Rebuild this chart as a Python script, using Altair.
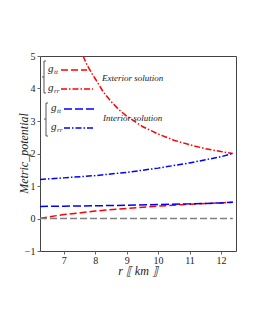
import altair as alt
import pandas as pd

# ---- data ----
r_ext_tt = [6.24, 6.5, 7.0, 7.5, 8.0, 9.0, 10.0, 11.0, 12.0, 12.38]
ext_tt = [0.0, 0.05, 0.12, 0.17, 0.23, 0.31, 0.38, 0.44, 0.48, 0.5]

r_ext_rr = [7.61, 7.75, 7.9, 8.0, 8.25, 8.5, 8.75, 9.0, 9.5, 10.0, 10.5, 11.0, 11.5, 12.0, 12.38]
ext_rr = [5.0, 4.7, 4.45, 4.3, 3.9, 3.6, 3.35, 3.15, 2.83, 2.6, 2.41, 2.27, 2.15, 2.06, 2.0]

r_int_tt = [6.24, 7.0, 8.0, 9.0, 10.0, 11.0, 12.0, 12.38]
int_tt = [0.37, 0.38, 0.39, 0.41, 0.43, 0.45, 0.48, 0.5]

r_int_rr = [6.24, 7.0, 8.0, 9.0, 10.0, 11.0, 12.0, 12.38]
int_rr = [1.2, 1.25, 1.32, 1.42, 1.55, 1.71, 1.9, 2.0]

r_zero = [6.24, 12.38]
zero = [0.0, 0.0]

x_ticks = [7, 8, 9, 10, 11, 12]
y_ticks = [-1, 0, 1, 2, 3, 4, 5]

series_names = ["ext_tt", "ext_rr", "int_tt", "int_rr", "zero"]
series_colors = ["#ff0000", "#ff0000", "#0000ff", "#0000ff", "#808080"]
series_dash = [[7, 3], [6, 2, 1.5, 2], [8, 3], [6, 2, 1.5, 2], [7, 3]]

rows = []
for name, rs, vs in [("ext_tt", r_ext_tt, ext_tt), ("ext_rr", r_ext_rr, ext_rr),
                     ("int_tt", r_int_tt, int_tt), ("int_rr", r_int_rr, int_rr),
                     ("zero", r_zero, zero)]:
    for i, (r, v) in enumerate(zip(rs, vs)):
        rows.append({"series": name, "r": r, "v": v, "o": i})
df = pd.DataFrame(rows)

FONT = "Liberation Serif"
W, H = 196, 195

lines = alt.Chart(df).mark_line(strokeWidth=1.5, clip=True).encode(
    x=alt.X("r:Q", scale=alt.Scale(domain=[6.24, 12.48], nice=False, zero=False),
            axis=alt.Axis(values=x_ticks, title=None, grid=False, domain=False,
                          tickSize=3, labelPadding=1, labelFontSize=10, labelFont=FONT,
                          tickColor="#666", labelColor="#222")),
    y=alt.Y("v:Q", scale=alt.Scale(domain=[-1, 5], nice=False, zero=False),
            axis=alt.Axis(values=y_ticks, title=None, grid=False, domain=False,
                          tickSize=3, labelPadding=2, labelFontSize=10, labelFont=FONT,
                          tickColor="#666", labelColor="#222")),
    color=alt.Color("series:N", scale=alt.Scale(domain=series_names, range=series_colors), legend=None),
    strokeDash=alt.StrokeDash("series:N", scale=alt.Scale(domain=series_names, range=series_dash), legend=None),
    order="o:Q",
)

one = pd.DataFrame({"a": [0]})


def rule(x1, x2, y1, y2, color, dash=None, width=1.5):
    kw = dict(strokeWidth=width, color=color)
    if dash:
        kw["strokeDash"] = dash
    return alt.Chart(one).mark_rule(**kw).encode(
        x=alt.value(x1), x2=alt.value(x2), y=alt.value(y1), y2=alt.value(y2))


def text(x, y, s, size=11, style="italic", align="left", angle=0, color="#222"):
    kw = dict(font=FONT, fontSize=size, fontStyle=style, align=align,
              baseline="middle", color=color)
    if angle:
        kw["angle"] = angle
    return alt.Chart(one).mark_text(**kw).encode(
        x=alt.value(x), y=alt.value(y), text=alt.value(s))


layers = [lines]
# legend lines
layers += [
    rule(21, 47, 14, 14, "#ff0000", [7, 3]),
    rule(21, 53, 33, 33, "#ff0000", [6, 2, 1.5, 2]),
    rule(24, 55, 53, 53, "#0000ff", [8, 3]),
    rule(24, 55, 72, 72, "#0000ff", [6, 2, 1.5, 2]),
]
# brackets
bc = "#555"
layers += [
    rule(4, 4, 5, 37, bc, width=1), rule(4, 6, 5, 5, bc, width=1), rule(4, 6, 37, 37, bc, width=1),
    rule(2, 4, 21, 21, bc, width=1),
    rule(6, 6, 47, 80, bc, width=1), rule(6, 8, 47, 47, bc, width=1), rule(6, 8, 80, 80, bc, width=1),
    rule(4, 6, 63, 63, bc, width=1),
]
# legend labels
layers += [
    text(8, 13, "g"), text(14, 16, "tt", size=7),
    text(8, 32, "g"), text(14, 35, "rr", size=7),
    text(11, 52, "g"), text(17, 55, "tt", size=7),
    text(11, 71, "g"), text(17, 74, "rr", size=7),
    text(62, 22, "Exterior solution", size=9),
    text(63, 62, "Interior solution", size=9),
]
# axis titles
layers += [
    text(-16, H / 2, "Metric_potential", size=12, align="center", angle=270),
    text(W / 2, 215, "r ⟦ km ⟧", size=12, align="center"),
]

chart = alt.layer(*layers).properties(
    width=W, height=H,
    autosize=alt.AutoSizeParams(type="none"),
    padding={"left": 32, "top": 48, "right": 10, "bottom": 40},
).configure_view(stroke="#444", strokeWidth=1)

chart.save("out.html", embed_options={"renderer": "svg", "actions": False})
